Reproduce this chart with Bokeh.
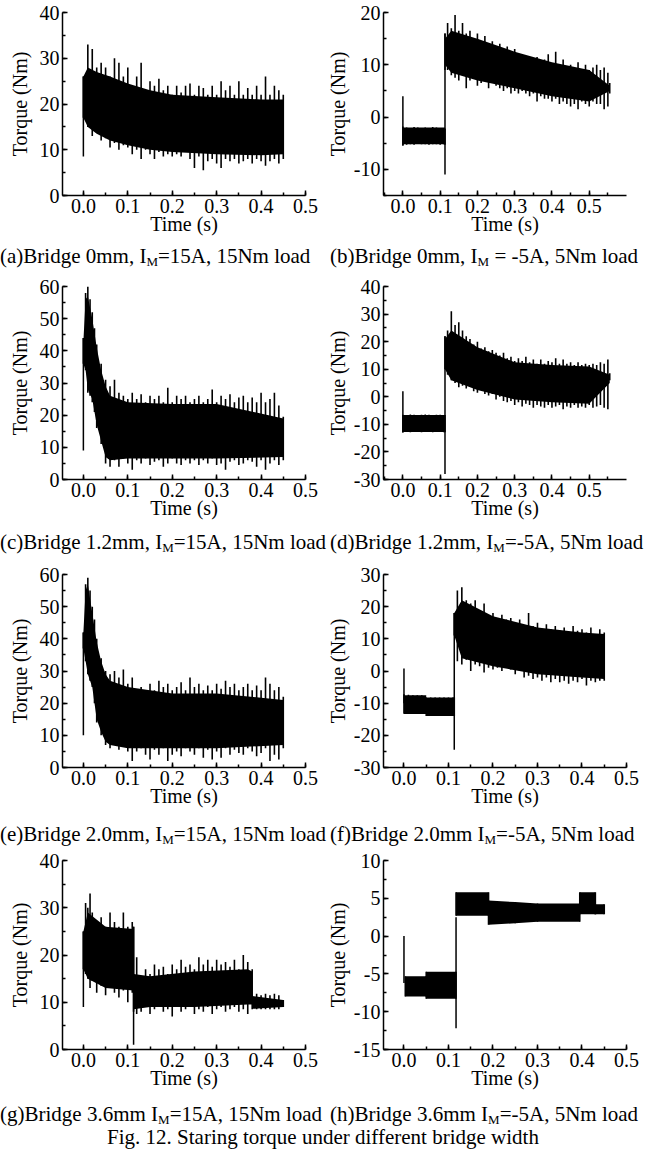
from bokeh.plotting import figure
from bokeh.layouts import column, row
from bokeh.models import Range1d, SingleIntervalTicker, NumeralTickFormatter, Div
from bokeh.embed import file_html
from bokeh.resources import INLINE

FONT = "Liberation Serif"

# ---------------- sample times (s) of the peak readings ----------------
T45 = [0.00, 0.01, 0.02, 0.03, 0.04, 0.05, 0.06, 0.07, 0.08, 0.09, 0.10, 0.11,
       0.12, 0.13, 0.14, 0.15, 0.16, 0.17, 0.18, 0.19, 0.20, 0.21, 0.22, 0.23,
       0.24, 0.25, 0.26, 0.27, 0.28, 0.29, 0.30, 0.31, 0.32, 0.33, 0.34, 0.35,
       0.36, 0.37, 0.38, 0.39, 0.40, 0.41, 0.42, 0.43, 0.44, 0.45]
T_CE = [0.000, 0.005, 0.010, 0.015, 0.020, 0.025, 0.030,
        0.04, 0.05, 0.06, 0.07, 0.08, 0.09, 0.10, 0.11, 0.12, 0.13, 0.14, 0.15,
        0.16, 0.17, 0.18, 0.19, 0.20, 0.21, 0.22, 0.23, 0.24, 0.25, 0.26, 0.27,
        0.28, 0.29, 0.30, 0.31, 0.32, 0.33, 0.34, 0.35, 0.36, 0.37, 0.38, 0.39,
        0.40, 0.41, 0.42, 0.43, 0.44, 0.45]
T_BD = [0.00, 0.01, 0.02, 0.03, 0.04, 0.05, 0.06, 0.07, 0.08, 0.09, 0.10, 0.11, 0.113,
        0.113, 0.12, 0.13, 0.14, 0.15, 0.16, 0.17, 0.18, 0.19, 0.20, 0.21, 0.22, 0.23,
        0.24, 0.25, 0.26, 0.27, 0.28, 0.29, 0.30, 0.31, 0.32, 0.33, 0.34, 0.35, 0.36,
        0.37, 0.38, 0.39, 0.40, 0.41, 0.42, 0.43, 0.44, 0.45, 0.46, 0.47, 0.48, 0.49,
        0.50, 0.51, 0.52, 0.53, 0.54, 0.55, 0.555]
T_F = [0.00, 0.01, 0.02, 0.03, 0.04, 0.05, 0.06, 0.07, 0.08, 0.09, 0.10, 0.11, 0.113,
       0.113, 0.12, 0.13, 0.14, 0.15, 0.16, 0.17, 0.18, 0.19, 0.20, 0.21, 0.22, 0.23,
       0.24, 0.25, 0.26, 0.27, 0.28, 0.29, 0.30, 0.31, 0.32, 0.33, 0.34, 0.35, 0.36,
       0.37, 0.38, 0.39, 0.40, 0.41, 0.42, 0.43, 0.44, 0.45]
T_G = [0.000, 0.005, 0.010, 0.015, 0.020, 0.03, 0.04, 0.05, 0.06, 0.07, 0.08, 0.09,
       0.10, 0.11, 0.113,
       0.113, 0.12, 0.13, 0.14, 0.15, 0.16, 0.17, 0.18, 0.19, 0.20, 0.21, 0.22, 0.23,
       0.24, 0.25, 0.26, 0.27, 0.28, 0.29, 0.30, 0.31, 0.32, 0.33, 0.34, 0.35, 0.36,
       0.37, 0.38,
       0.38, 0.39, 0.40, 0.41, 0.42, 0.43, 0.44, 0.45]
T_H = [0.003, 0.05, 0.05, 0.117, 0.117, 0.19, 0.19, 0.25, 0.30, 0.395, 0.395, 0.43, 0.43, 0.45]

# ---------------- torque peaks (Nm): upper / lower excursions ----------------
HI_A = [26, 33, 32, 28, 29, 28, 26, 30, 29, 26, 28, 24, 26, 29, 23, 25, 24, 25.5, 23, 24,
        22, 24, 22.5, 24, 24.5, 22, 24, 23.5, 22, 24, 22, 25, 23, 24, 22, 25, 22, 23.5,
        22, 24, 22, 26, 22, 24, 23, 22]
LO_A = [17, 15, 13, 14, 12, 12.5, 10.5, 11.5, 10, 11, 10.5, 9, 10, 8, 10, 9, 8, 9.5, 8.5, 9,
        8.5, 9, 8.5, 9.5, 8, 6, 8.5, 5.5, 7.5, 8, 7, 6, 8, 7.5, 8, 7, 7.5, 8, 7, 8,
        7.5, 6.5, 7.5, 8, 7, 8]

HI_B = [-1.8, -2.0, -2.1, -1.9, -2.0, -2.2, -2.0, -2.1, -1.9, -2.0, -2.1, -2.2, -2.2,
        16, 18, 17, 19.5, 16.5, 18, 16, 16.5, 15, 16, 14.5, 15.5, 14, 14.5, 13, 14, 13,
        13.5, 12, 13, 11.5, 12, 11, 11.5, 10.5, 11.5, 10.5, 11, 12, 10, 12.5, 10, 11,
        9.5, 10, 9, 10.5, 9, 10, 9, 9.5, 10, 9, 9.5, 8.5, 6.5]
LO_B = [-5.4, -5.3, -5.2, -5.3, -5.1, -5.2, -5.2, -5.3, -5.2, -5.2, -5.3, -5.2, -5.3,
        9, 9, 8, 7.5, 7, 8, 5.5, 7, 7.5, 6, 6.5, 7.5, 5.5, 6.5, 6, 5.5, 5, 5.5, 4.5, 5,
        4.5, 5, 4.5, 4, 4.5, 3, 4, 3.5, 3.5, 3, 3.5, 2.5, 3, 2.5, 2, 2.5, 1.5, 3, 2.5,
        2, 3, 2.5, 2.5, 1.5, 2, 4.5]

HI_C = [44, 58, 60, 56, 52, 47, 42, 36, 31, 29, 31, 27, 26, 25, 27, 25, 26.5, 24, 26, 25,
        26, 24, 28.5, 24, 26, 25, 26, 24, 25, 26, 24, 25, 28, 24, 26, 25, 26.5, 24, 25.5,
        26, 24, 25.5, 24, 27, 24, 25, 27, 23, 19.5]
LO_C = [36, 34, 27, 26, 24, 21, 16, 11, 5, 4, 6, 4, 6.5, 5, 3, 6, 5, 6.5, 4.5, 5.5,
        6, 4, 5, 6.5, 5, 4.5, 6, 5, 6, 4.5, 6, 5, 6.5, 4.5, 5, 3, 5.5, 6, 4.5, 5,
        6, 5.5, 4, 6, 3, 5, 6, 4.5, 6]

HI_D = [-6.5, -6.6, -6.4, -6.5, -6.6, -6.5, -6.4, -6.5, -6.6, -6.5, -6.5, -6.6, -6.6,
        22, 24, 31, 26, 27, 24, 22, 21, 19, 20, 17.5, 18, 16.5, 17, 16, 15, 16, 14,
        14.5, 13, 14, 13, 14.5, 12.5, 13.5, 12, 13.5, 12, 13, 12.5, 14, 12, 13.5, 12,
        12.5, 11.5, 12.5, 11.5, 12, 11.5, 12, 11.5, 12.5, 12, 13.5, 8.5]
LO_D = [-12.8, -12.8, -12.9, -12.8, -12.8, -12.9, -12.8, -12.8, -12.9, -12.8, -12.8, -12.9, -12.9,
        10, 8, 6, 5, 3.5, 4, 3, 4, 2, 1.5, 2.5, 1, 0.5, 1, -1, 0, -1.5, -2, -1.5, -3,
        -2, -3.5, -2.5, -3, -4, -3, -3.5, -4, -3, -4, -3.5, -3, -4.5, -3.5, -4, -3, -4,
        -3.5, -4, -3, -4, -3.5, -3, -4, -4.5, 6]

HI_E = [42, 57, 59, 55, 50, 46, 40, 34, 30, 29, 30, 28, 30.5, 26, 28, 24, 25, 24, 26, 24,
        27, 25, 26, 24, 25, 26.5, 24, 28, 25, 26, 24, 25.5, 24, 26, 24.5, 27, 25, 26, 24,
        25, 26, 24, 25.5, 24, 28, 26, 24, 25, 22]
LO_E = [37, 33, 29, 27, 25, 20, 14, 10, 7, 6, 7.5, 5.5, 6.5, 5, 2, 5, 6, 4, 2.5, 5.5,
        4, 6, 2, 4, 5, 3.5, 6, 5, 4, 6, 3, 5.5, 2.5, 5, 3, 6, 4, 5.5, 4.5, 4,
        6, 5, 3.5, 4.5, 6, 2, 4, 2.5, 6]

HI_F = [-7.2, -7.4, -7.5, -7.5, -7.5, -8.2, -8.2, -8.2, -8.2, -8.2, -8.2, -8.2, -8.2,
        18, 25, 26, 22, 21, 22, 19, 21, 17, 18, 16, 17.5, 16, 16.5, 15, 16, 14, 18, 14,
        15, 13, 14.5, 13, 14, 12.5, 13.5, 12, 14, 12.5, 13, 12, 13.5, 11.5, 13, 12]
LO_F = [-13.3, -13.3, -13.4, -13.4, -13.4, -14.0, -14.0, -14.0, -14.0, -14.0, -14.0, -14.0, -14.0,
        11, 3, 2, 3.5, 0, 2, 1.5, -0.5, 1, 0.5, 1, 0, 1, 0.5, -1, 0, -2, -1.5, -2.5, -2,
        -3, -2, -3.5, -2.5, -3.5, -3, -4, -3, -3.5, -2.5, -4.5, -3, -3.5, -3, -3]

HI_G = [25, 31, 30, 33, 29, 27, 28, 26, 29, 27, 26, 29, 26, 27, 26,
        16, 19.5, 15, 17, 16, 18, 17, 17.5, 16, 18, 17, 19, 17.5, 18, 17, 19.5, 18, 19,
        17.5, 19, 18, 18.5, 17.5, 19, 17, 20, 18.5, 17,
        11.5, 11.8, 11.5, 11.8, 11.5, 11.8, 11.5, 10.5]
LO_G = [17, 16, 15, 13, 14.5, 12, 13.5, 11.5, 13, 12, 11, 12.5, 10, 12, 13,
        8, 7.5, 8, 9, 7.5, 8.5, 9, 8, 8.5, 7, 9, 8, 8.5, 9, 7.5, 8.5, 8, 9, 7.5, 8.5,
        9, 8, 8.5, 9, 8, 8.5, 7.5, 10,
        8.5, 8.5, 8.5, 8.5, 8.5, 8.5, 8.5, 9]

HI_H = [-5.3, -5.3, -4.7, -4.7, 5.8, 5.8, 4.7, 4.5, 4.3, 4.3, 5.8, 5.8, 4.2, 4.2]
LO_H = [-8.0, -8.0, -8.3, -8.3, 2.7, 2.7, 1.5, 1.7, 1.9, 1.9, 2.9, 2.9, 2.9, 2.9]

# ---------------- dense core of the ripple band (Nm) ----------------
CORE_T_A = [0.0, 0.01, 0.03, 0.06, 0.10, 0.15, 0.20, 0.30, 0.40, 0.45]
CORE_HI_A = [26, 28, 27, 26, 24.5, 23, 22, 21.5, 21, 21]
CORE_LO_A = [17, 15, 13.5, 12, 11, 10, 9.5, 9, 8.8, 9]

CORE_T_B = [0.0, 0.113, 0.113, 0.13, 0.20, 0.30, 0.40, 0.50, 0.555]
CORE_HI_B = [-2.0, -2.0, 15, 16.5, 15, 12.5, 10.5, 9, 6]
CORE_LO_B = [-5.2, -5.2, 10, 8.5, 7, 5.5, 4, 3, 5]

CORE_T_C = [0.0, 0.005, 0.01, 0.02, 0.03, 0.04, 0.05, 0.06, 0.10, 0.20, 0.30, 0.45]
CORE_HI_C = [43, 56, 57, 50, 41, 34, 29, 26, 24, 23.5, 23.5, 19]
CORE_LO_C = [36, 34, 28, 25, 17, 12, 7, 6, 6.5, 6.5, 6.5, 7]

CORE_T_D = [0.0, 0.113, 0.113, 0.13, 0.20, 0.30, 0.40, 0.50, 0.555]
CORE_HI_D = [-6.6, -6.6, 21, 24, 18, 12.5, 11.5, 11, 8]
CORE_LO_D = [-12.8, -12.8, 10, 6, 2.5, -1, -2, -2.5, 5]

CORE_T_E = [0.0, 0.005, 0.01, 0.02, 0.03, 0.04, 0.05, 0.06, 0.10, 0.20, 0.30, 0.45]
CORE_HI_E = [42, 55, 57, 48, 39, 33, 29, 27, 25, 23, 23, 21]
CORE_LO_E = [37, 33, 29, 25, 15, 11, 8, 7, 6, 6, 6, 7]

CORE_T_F = [0.0, 0.05, 0.05, 0.113, 0.113, 0.13, 0.20, 0.30, 0.40, 0.45]
CORE_HI_F = [-7.5, -7.5, -8.2, -8.2, 18, 22, 17, 13.5, 12, 11.5]
CORE_LO_F = [-13.4, -13.4, -14.0, -14.0, 11, 4, 1.5, -1, -2, -2.5]

CORE_T_G = [0.0, 0.01, 0.05, 0.113, 0.113, 0.15, 0.25, 0.37, 0.38, 0.38, 0.45]
CORE_HI_G = [25, 29, 26, 25.5, 16, 15.5, 16.5, 17, 16.5, 11.3, 10.5]
CORE_LO_G = [17, 15, 13, 12.5, 8.5, 9, 9, 9.5, 9.5, 8.6, 9]

CORE_T_H, CORE_HI_H, CORE_LO_H = T_H, HI_H, LO_H

# transient spikes: time, lowest, highest
SPK_T_A, SPK_LO_A, SPK_HI_A = [0.0], [8.5], [26]
SPK_T_B, SPK_LO_B, SPK_HI_B = [0.0, 0.113], [-5.5, -11], [4, 16]
SPK_T_C, SPK_LO_C, SPK_HI_C = [0.0], [9], [44]
SPK_T_D, SPK_LO_D, SPK_HI_D = [0.0, 0.113], [-13, -28], [2, 22]
SPK_T_E, SPK_LO_E, SPK_HI_E = [0.0], [10], [42]
SPK_T_F, SPK_LO_F, SPK_HI_F = [0.0, 0.113], [-10, -24.5], [0.8, 18]
SPK_T_G, SPK_LO_G, SPK_HI_G = [0.0, 0.113], [9, 1], [25, 26]
SPK_T_H, SPK_LO_H, SPK_HI_H = [0.0, 0.117], [-6.2, -12.2], [0, 2.5]

X_RANGES = {"a": (-0.047, 0.5), "b": (-0.052, 0.6), "c": (-0.047, 0.5), "d": (-0.052, 0.6),
            "e": (-0.047, 0.5), "f": (-0.046, 0.5), "g": (-0.047, 0.5), "h": (-0.046, 0.5)}
Y_RANGES = {"a": (0, 40), "b": (-15, 20), "c": (0, 60), "d": (-30, 40),
            "e": (0, 60), "f": (-30, 30), "g": (0, 40), "h": (-15, 10)}
Y_STEP = {"a": 10, "b": 10, "c": 10, "d": 10, "e": 10, "f": 10, "g": 10, "h": 5}

SUB = '<span style="font-size:13px;position:relative;top:3px;">M</span>'
CAPTIONS = {
    "a": "(a)Bridge 0mm, I" + SUB + "=15A, 15Nm load",
    "b": "(b)Bridge 0mm, I" + SUB + " = -5A, 5Nm load",
    "c": "(c)Bridge 1.2mm, I" + SUB + "=15A, 15Nm load",
    "d": "(d)Bridge 1.2mm, I" + SUB + "=-5A, 5Nm load",
    "e": "(e)Bridge 2.0mm, I" + SUB + "=15A, 15Nm load",
    "f": "(f)Bridge 2.0mm I" + SUB + "=-5A, 5Nm load",
    "g": "(g)Bridge 3.6mm I" + SUB + "=15A, 15Nm load",
    "h": "(h)Bridge 3.6mm I" + SUB + "=-5A, 5Nm load",
}
FIG_TITLE = "Fig. 12. Staring torque under different bridge width"

DATA = {
    "a": (T45, HI_A, LO_A, CORE_T_A, CORE_HI_A, CORE_LO_A, SPK_T_A, SPK_LO_A, SPK_HI_A),
    "b": (T_BD, HI_B, LO_B, CORE_T_B, CORE_HI_B, CORE_LO_B, SPK_T_B, SPK_LO_B, SPK_HI_B),
    "c": (T_CE, HI_C, LO_C, CORE_T_C, CORE_HI_C, CORE_LO_C, SPK_T_C, SPK_LO_C, SPK_HI_C),
    "d": (T_BD, HI_D, LO_D, CORE_T_D, CORE_HI_D, CORE_LO_D, SPK_T_D, SPK_LO_D, SPK_HI_D),
    "e": (T_CE, HI_E, LO_E, CORE_T_E, CORE_HI_E, CORE_LO_E, SPK_T_E, SPK_LO_E, SPK_HI_E),
    "f": (T_F, HI_F, LO_F, CORE_T_F, CORE_HI_F, CORE_LO_F, SPK_T_F, SPK_LO_F, SPK_HI_F),
    "g": (T_G, HI_G, LO_G, CORE_T_G, CORE_HI_G, CORE_LO_G, SPK_T_G, SPK_LO_G, SPK_HI_G),
    "h": (T_H, HI_H, LO_H, CORE_T_H, CORE_HI_H, CORE_LO_H, SPK_T_H, SPK_LO_H, SPK_HI_H),
}
for k, d in DATA.items():
    assert len(d[0]) == len(d[1]) == len(d[2]), (k, "peaks")
    assert len(d[3]) == len(d[4]) == len(d[5]), (k, "core")

# layout geometry per row: (top border, frame height, bottom border)
ROWS = [(12, 183, 48), (12, 193, 50), (12, 193, 50), (12, 189, 50)]
CAP_H = [31, 33, 31, 28]
CAP_PAD = [2, 2, 6, 4]


def make_panel(key, side, top, frame_h, bottom):
    t, hi, lo, ct, chi, clo, st, sl, sh = DATA[key]
    bl, br = (62, 18) if side == 0 else (59, 20)
    p = figure(width=323, height=top + frame_h + bottom,
               x_range=Range1d(*X_RANGES[key]), y_range=Range1d(*Y_RANGES[key]),
               output_backend="svg", toolbar_location=None,
               min_border_left=bl, min_border_right=br,
               min_border_top=top, min_border_bottom=bottom)
    p.outline_line_color = None
    p.grid.visible = False
    # dense ripple core
    p.varea(x=ct, y1=clo, y2=chi, fill_color="black")
    # ripple peaks (needles)
    p.segment(x0=t, y0=lo, x1=t, y1=hi, line_color="black", line_width=1.6)
    # transient spikes
    p.segment(x0=st, y0=sl, x1=st, y1=sh, line_color="black", line_width=1.5)

    p.xaxis.ticker = SingleIntervalTicker(interval=0.1, num_minor_ticks=2)
    p.xaxis.formatter = NumeralTickFormatter(format="0.0")
    p.yaxis.ticker = SingleIntervalTicker(interval=Y_STEP[key], num_minor_ticks=2)
    p.yaxis.formatter = NumeralTickFormatter(format="0")
    p.xaxis.axis_label = "Time (s)"
    p.yaxis.axis_label = "Torque (Nm)"
    for ax in (p.xaxis, p.yaxis):
        ax.axis_line_width = 1.5
        ax.axis_line_color = "black"
        ax.major_tick_in = 5
        ax.major_tick_out = 0
        ax.minor_tick_in = 3
        ax.minor_tick_out = 0
        ax.major_tick_line_width = 1.5
        ax.minor_tick_line_width = 1.5
        ax.major_tick_line_color = "black"
        ax.minor_tick_line_color = "black"
        ax.major_label_text_font = FONT
        ax.major_label_text_font_size = "20px"
        ax.major_label_text_color = "black"
        ax.axis_label_text_font = FONT
        ax.axis_label_text_font_size = "20px"
        ax.axis_label_text_font_style = "normal"
        ax.axis_label_text_color = "black"
        ax.major_label_standoff = 3
    p.xaxis.axis_label_standoff = -3
    p.yaxis.axis_label_standoff = 6 if side == 0 else 2
    return p


def caption_div(key, pad_left, pad_top, height):
    html = (f"<div style=\"font-family:'{FONT}';font-size:21px;line-height:22px;color:black;"
            f"white-space:nowrap;padding-top:{pad_top}px;padding-left:{pad_left}px;\">"
            f"{CAPTIONS[key]}</div>")
    return Div(text=html, width=323, height=height, margin=(0, 0, 0, 0))


items = []
pairs = [("a", "b"), ("c", "d"), ("e", "f"), ("g", "h")]
for i, (lk, rk) in enumerate(pairs):
    top, fh, bot = ROWS[i]
    items.append(row(make_panel(lk, 0, top, fh, bot), make_panel(rk, 1, top, fh, bot), spacing=0))
    items.append(row(caption_div(lk, 0, CAP_PAD[i], CAP_H[i]),
                     caption_div(rk, 7, CAP_PAD[i], CAP_H[i]), spacing=0))

title_html = (f"<div style=\"width:646px;font-family:'{FONT}';font-size:21px;line-height:20px;"
              f"color:black;white-space:nowrap;text-align:center;\">{FIG_TITLE}</div>")
items.append(Div(text=title_html, width=646, height=20, margin=(0, 0, 0, 0)))

layout = column(*items, spacing=0)
open("out.html", "w").write(file_html(layout, INLINE))
